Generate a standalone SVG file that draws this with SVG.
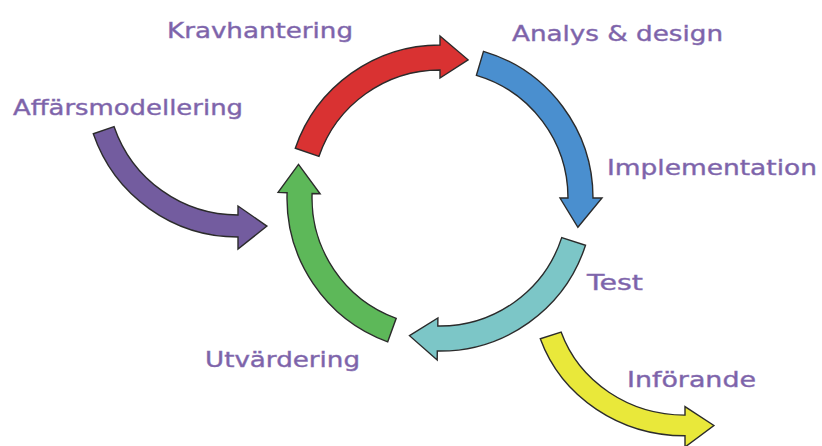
<svg xmlns="http://www.w3.org/2000/svg" width="822" height="446" viewBox="0 0 822 446">
<style>
.arr{stroke:#2b2b2b;stroke-width:1.4;stroke-linejoin:miter;}
.lbl{font-family:"DejaVu Sans","Liberation Sans",sans-serif;font-size:22px;fill:#7c62a9;stroke:#8a72b3;stroke-width:0.45;}
</style>
<rect width="822" height="446" fill="#ffffff"/>
<g id="connectors">
  <path id="arrow-krav" class="arr" fill="#d93232" d="M295.3,148.2 A153,153 0 0 1 440,45 L440,36 L468.1,59.8 L440,78 L440,70 A128,128 0 0 0 319,156.3 Z"/>
  <path id="arrow-analys" class="arr" fill="#4a8fcf" d="M483.5,51.3 A153,153 0 0 1 593,198 L602,198 L577.9,227.3 L560,198 L568,198 A128,128 0 0 0 476.4,75.3 Z"/>
  <path id="arrow-test" class="arr" fill="#7cc6c7" d="M585.5,245.3 A153,153 0 0 1 437.3,351 L437.2,360 L409.5,335.7 L437.9,318 L437.8,326 A128,128 0 0 0 561.7,237.6 Z"/>
  <path id="arrow-utv" class="arr" fill="#5db859" d="M387.7,341.8 A153,153 0 0 1 287.1,192.7 L278.1,192.4 L298.5,164.4 L320.1,193.8 L312.1,193.5 A128,128 0 0 0 396.2,318.3 Z"/>
  <path id="arrow-affars" class="arr" fill="#735c9f" d="M93.3,133.8 A153,153 0 0 0 238,237 L238,249 L266.9,226.1 L238,206 L238,215 A131,131 0 0 1 114.1,126.7 Z"/>
  <path id="arrow-inforande" class="arr" fill="#e9e83a" vector-effect="non-scaling-stroke" transform="matrix(1,0,0,0.94,447,213)" d="M93.3,133.8 A153,153 0 0 0 238,237 L238,249 L266.9,226.1 L238,206 L238,215 A131,131 0 0 1 114.1,126.7 Z"/>
</g>
<g id="node-krav"><text class="lbl" x="167" y="38" textLength="186" lengthAdjust="spacingAndGlyphs">Kravhantering</text></g>
<g id="node-analys"><text class="lbl" x="512" y="41" textLength="211" lengthAdjust="spacingAndGlyphs">Analys &amp; design</text></g>
<g id="node-affars"><text class="lbl" x="13" y="115" textLength="230" lengthAdjust="spacingAndGlyphs">Affärsmodellering</text></g>
<g id="node-impl"><text class="lbl" x="607" y="175" textLength="210" lengthAdjust="spacingAndGlyphs">Implementation</text></g>
<g id="node-test"><text class="lbl" x="587" y="290" textLength="56" lengthAdjust="spacingAndGlyphs">Test</text></g>
<g id="node-utv"><text class="lbl" x="205" y="367" textLength="155" lengthAdjust="spacingAndGlyphs">Utvärdering</text></g>
<g id="node-inforande"><text class="lbl" x="627" y="387" textLength="129" lengthAdjust="spacingAndGlyphs">Införande</text></g>
</svg>
